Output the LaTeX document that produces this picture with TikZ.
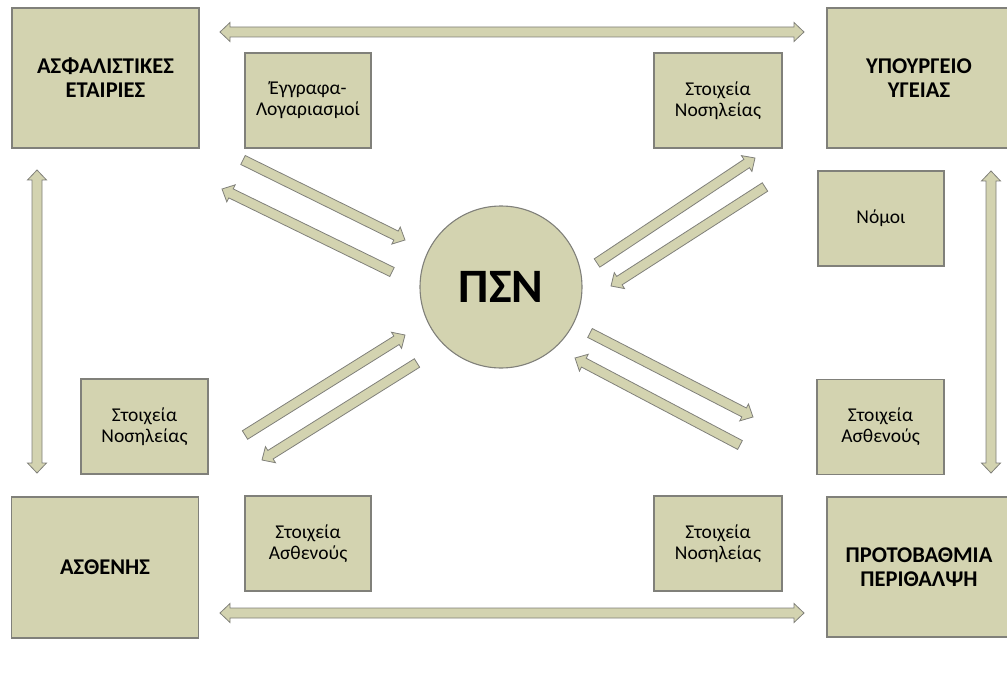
\documentclass[tikz,border=0pt]{standalone}
\usepackage{fontspec}
\setmainfont{Carlito}
\usetikzlibrary{calc}

\definecolor{boxfill}{RGB}{211,211,176}
\definecolor{boxline}{RGB}{128,128,122}

\tikzset{
  base/.style={draw=boxline, fill=boxfill, line width=1.1pt, inner sep=0pt, align=center},
  bigbox/.style={base, rectangle, minimum width=187pt, minimum height=140pt,
    font=\bfseries\fontsize{22.5}{24}\selectfont},
  smallbox/.style={base, rectangle, minimum width=127pt, minimum height=95pt,
    font=\fontsize{19.5}{21}\selectfont},
  hub/.style={base, circle, minimum size=162pt, font=\bfseries\fontsize{48}{54}\selectfont},
  blockarrow/.style={draw=boxline, fill=boxfill, line width=0.8pt, line join=miter}
}

% block arrow dimensions: half shaft, half head, head length
\def\shw{5pt}
\def\hdw{9.5pt}
\def\hdl{10pt}

% single-headed block arrow from #1 (tail) to #2 (tip)
\newcommand\onewayarrow[2]{%
  \coordinate (hb) at ($(#2)!\hdl!(#1)$);
  \draw[blockarrow]
    ($(#1)!\shw!90:(#2)$) -- ($(hb)!\shw!90:(#2)$) -- ($(hb)!\hdw!90:(#2)$) --
    (#2) --
    ($(hb)!\hdw!-90:(#2)$) -- ($(hb)!\shw!-90:(#2)$) -- ($(#1)!\shw!-90:(#2)$) -- cycle;
}

% double-headed block arrow between #1 and #2
\newcommand\twowayarrow[2]{%
  \coordinate (ha) at ($(#1)!\hdl!(#2)$);
  \coordinate (hb) at ($(#2)!\hdl!(#1)$);
  \draw[blockarrow]
    (#1) -- ($(ha)!\hdw!90:(#2)$) -- ($(ha)!\shw!90:(#2)$) --
    ($(hb)!\shw!90:(#2)$) -- ($(hb)!\hdw!90:(#2)$) --
    (#2) --
    ($(hb)!\hdw!-90:(#2)$) -- ($(hb)!\shw!-90:(#2)$) --
    ($(ha)!\shw!-90:(#2)$) -- ($(ha)!\hdw!-90:(#2)$) -- cycle;
}

\begin{document}
\begin{tikzpicture}[x=1pt, y=-1pt]
  \useasboundingbox (0,0) rectangle (1007,674);
  \clip (0,0) rectangle (1007,674);

  % corner entities
  \node[bigbox] (ins) at (105.5,78) {ΑΣΦΑΛΙΣΤΙΚΕΣ\\ΕΤΑΙΡΙΕΣ};
  \node[bigbox, minimum width=184pt] (moh) at (919,78) {ΥΠΟΥΡΓΕΙΟ\\ΥΓΕΙΑΣ};
  \node[bigbox, minimum height=141pt] (pat) at (105,567.5) {ΑΣΘΕΝΗΣ};
  \node[bigbox, minimum width=184pt] (pc) at (919,567) {ΠΡΟΤΟΒΑΘΜΙΑ\\ΠΕΡΙΘΑΛΨΗ};

  % exchanged data
  \node[smallbox, minimum width=126pt] (docs) at (308,100.5) {Έγγραφα-\\Λογαριασμοί};
  \node[smallbox, minimum width=128pt] (hospTR) at (718,100.5) {Στοιχεία\\Νοσηλείας};
  \node[smallbox, minimum width=126pt] (laws) at (881,218.5) {Νόμοι};
  \node[smallbox] (hospBL) at (144.5,426.5) {Στοιχεία\\Νοσηλείας};
  \node[smallbox] (patR) at (880.5,427) {Στοιχεία\\Ασθενούς};
  \node[smallbox, minimum width=126pt] (patBL) at (308,543.5) {Στοιχεία\\Ασθενούς};
  \node[smallbox, minimum width=128pt] (hospBR) at (718,543.5) {Στοιχεία\\Νοσηλείας};

  % central system
  \node[hub] (psn) at (501,287) {ΠΣΝ};

  % outer links
  \coordinate (topL) at (220,32);   \coordinate (topR) at (804,32);
  \coordinate (botL) at (220,613);  \coordinate (botR) at (804,613);
  \coordinate (lftT) at (37,170);   \coordinate (lftB) at (37,473);
  \coordinate (rgtT) at (991,171);  \coordinate (rgtB) at (991,473);
  \twowayarrow{topL}{topR}
  \twowayarrow{botL}{botR}
  \twowayarrow{lftT}{lftB}
  \twowayarrow{rgtT}{rgtB}

  % links to and from the hub
  \coordinate (a1s) at (243,160); \coordinate (a1e) at (405,240);
  \coordinate (a2s) at (392,272); \coordinate (a2e) at (222,189);
  \coordinate (a3s) at (245,435); \coordinate (a3e) at (405,335);
  \coordinate (a4s) at (417,363); \coordinate (a4e) at (262,460);
  \coordinate (a5s) at (597,263); \coordinate (a5e) at (755,158);
  \coordinate (a6s) at (765,187); \coordinate (a6e) at (611,286);
  \coordinate (a7s) at (590,333); \coordinate (a7e) at (753,417);
  \coordinate (a8s) at (740,445); \coordinate (a8e) at (575,358);
  \onewayarrow{a1s}{a1e}
  \onewayarrow{a2s}{a2e}
  \onewayarrow{a3s}{a3e}
  \onewayarrow{a4s}{a4e}
  \onewayarrow{a5s}{a5e}
  \onewayarrow{a6s}{a6e}
  \onewayarrow{a7s}{a7e}
  \onewayarrow{a8s}{a8e}
\end{tikzpicture}
\end{document}
